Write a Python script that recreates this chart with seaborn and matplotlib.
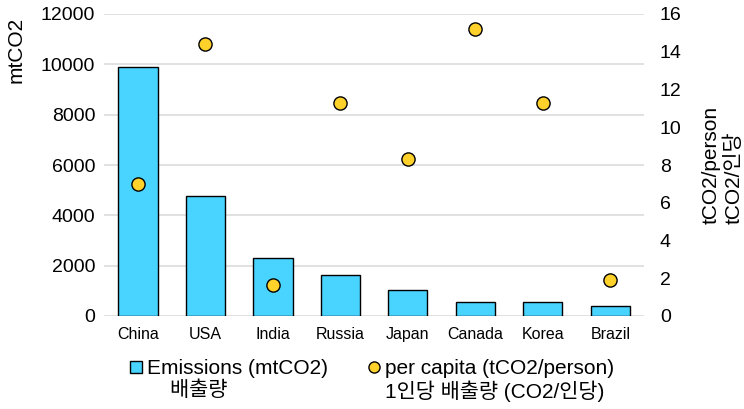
import matplotlib
matplotlib.use("Agg")
import matplotlib.pyplot as plt
from matplotlib.lines import Line2D
import seaborn as sns
import pandas as pd

# CO2 emissions by country, total and per person
countries = ["China", "USA", "India", "Russia", "Japan", "Canada", "Korea", "Brazil"]
emissions = [9900, 4750, 2300, 1620, 1030, 550, 570, 400]          # mtCO2
per_capita = [7.0, 14.4, 1.65, 11.3, 8.3, 15.2, 11.3, 1.9]          # tCO2/person
left_ticks = [0, 2000, 4000, 6000, 8000, 10000, 12000]
right_ticks = [0, 2, 4, 6, 8, 10, 12, 14, 16]

legend_labels = ["Emissions (mtCO2)", "    배출량",
                 "per capita (tCO2/person)", "1인당 배출량 (CO2/인당)"]
left_title = "mtCO2"
right_title = "tCO2/person\ntCO2/인당"

BAR_COLOR = "#49D3FF"
DOT_COLOR = "#FFD22B"
GRID_COLOR = "#D9D9D9"

sns.set_theme(style="white")
plt.rcParams["font.family"] = ["Liberation Sans", "Noto Sans CJK KR"]
plt.rcParams["text.color"] = "black"
plt.rcParams["axes.labelcolor"] = "black"

df = pd.DataFrame({"country": countries, "emissions": emissions,
                   "per_capita": per_capita})

W, H = 744, 409
fig = plt.figure(figsize=(W / 100, H / 100), dpi=100)
x0, x1, y_top, y_bot = 104.3, 644.0, 14.0, 316.0
ax = fig.add_axes([x0 / W, 1 - y_bot / H, (x1 - x0) / W, (y_bot - y_top) / H])

sns.barplot(data=df, x="country", y="emissions", color=BAR_COLOR, saturation=1,
            width=0.58, edgecolor="black", linewidth=1.0, ax=ax)
ax.set_ylim(0, 12000)
ax.set_yticks(left_ticks)
ax.set_axisbelow(True)
ax.yaxis.grid(True, color=GRID_COLOR, linewidth=1.1)
ax.xaxis.grid(False)
ax.tick_params(axis="y", length=0, pad=6.5, labelsize=14, colors="black")
ax.tick_params(axis="x", length=0, pad=8, labelsize=11.5, colors="black")
ax.set_xlabel("")
ax.set_ylabel(left_title, fontsize=15, color="black")
ax.yaxis.set_label_coords(-0.145, 0.881)
for s in ax.spines.values():
    s.set_visible(False)

ax2 = ax.twinx()
sns.pointplot(data=df, x="country", y="per_capita", errorbar=None,
              marker="o", linestyle="none", color=DOT_COLOR,
              markerfacecolor=DOT_COLOR, markeredgecolor="black",
              markeredgewidth=1.0, markersize=9.5, ax=ax2)
ax2.set_ylim(0, 16)
ax2.set_yticks(right_ticks)
ax2.tick_params(axis="y", length=0, pad=11.5, labelsize=14, colors="black")
ax2.set_ylabel(right_title, fontsize=15, color="black", multialignment="left")
ax2.yaxis.set_label_coords(1.1075, 0.5)
ax2.grid(False)
for s in ax2.spines.values():
    s.set_visible(False)
ax.set_xlim(-0.5, len(countries) - 0.5)

# Legend: marker rows with the Korean caption on a second row under each entry
blank = Line2D([], [], linestyle="none", marker="")
sq = Line2D([], [], linestyle="none", marker="s", markersize=8.5,
            markerfacecolor=BAR_COLOR, markeredgecolor="black", markeredgewidth=1.0)
dot = Line2D([], [], linestyle="none", marker="o", markersize=8,
             markerfacecolor=DOT_COLOR, markeredgecolor="black", markeredgewidth=1.0)
fig.legend([sq, blank, dot, blank], legend_labels, ncol=2, loc="upper left",
           bbox_to_anchor=(130 / W, 1 - 359 / H), frameon=False, fontsize=15,
           handlelength=0.62, handletextpad=0.2, columnspacing=1.9,
           borderpad=0, borderaxespad=0, labelspacing=0.12)

fig.savefig("out.png", dpi=100)
